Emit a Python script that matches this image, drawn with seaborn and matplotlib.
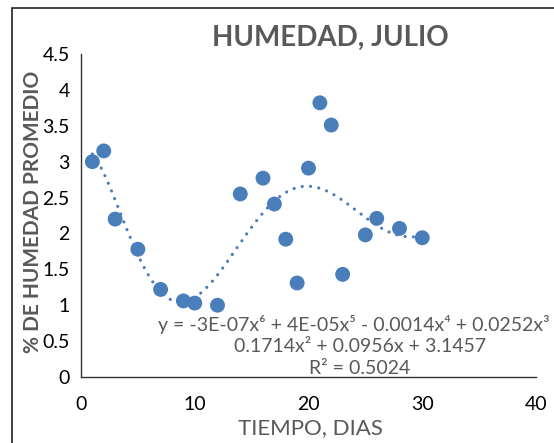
import numpy as np
import pandas as pd
import seaborn as sns
import matplotlib.pyplot as plt
from matplotlib.patches import Rectangle

# dias y humedad promedio (julio)
dias = [1, 2, 3, 5, 7, 9, 10, 12, 14, 16, 17, 18, 19, 20, 21, 22, 23, 25, 26, 28, 30]
humedad = [3.0, 3.15, 2.2, 1.78, 1.22, 1.06, 1.03, 1.0, 2.55, 2.77, 2.41, 1.92, 1.31,
           2.91, 3.82, 3.51, 1.43, 1.98, 2.21, 2.07, 1.94]
x_ticks = [0, 10, 20, 30, 40]
y_ticks = [0, 0.5, 1, 1.5, 2, 2.5, 3, 3.5, 4, 4.5]
eq_text = ("y = -3E-07x\u2076 + 4E-05x\u2075 - 0.0014x\u2074 + 0.0252x\u00b3 -\n"
           "0.1714x\u00b2 + 0.0956x + 3.1457\nR\u00b2 = 0.5024")

df = pd.DataFrame({"dias": dias, "humedad": humedad})

sns.set_style("white")
plt.rcParams["font.family"] = ["Lato", "DejaVu Sans"]

blue = "#4A7EBB"
gray = "#595959"

fig = plt.figure(figsize=(5.54, 4.43), dpi=100)
ax = fig.add_axes([81 / 554, 1 - 377 / 443, 455 / 554, 323 / 443])

# borde del area del grafico
fig.patches.append(Rectangle((12 / 554, -0.1), 1.2, 1 - 8 / 443 + 0.1,
                             transform=fig.transFigure, fill=False,
                             edgecolor="#222222", linewidth=1.2))

# linea de tendencia polinomica (orden 6)
coef = np.polyfit(df["dias"], df["humedad"], 6)
xs = np.linspace(min(dias), max(dias), 300)
trend = pd.DataFrame({"dias": xs, "humedad": np.polyval(coef, xs)})
sns.lineplot(data=trend, x="dias", y="humedad", ax=ax, color=blue, linewidth=2.3,
             linestyle=(0, (0.01, 2.6)), dash_capstyle="round", zorder=2)

sns.scatterplot(data=df, x="dias", y="humedad", ax=ax, color=blue, s=115,
                edgecolor="none", zorder=3)

ax.set_xlim(0, 40)
ax.set_ylim(0, 4.5)
ax.set_xticks(x_ticks)
ax.set_yticks(y_ticks)
ax.set_xticklabels([str(v) for v in x_ticks], fontsize=14, color="black")
ax.set_yticklabels(["0", "0.5", "1", "1.5", "2", "2.5", "3", "3.5", "4", "4.5"],
                   fontsize=14, color="black")
ax.tick_params(axis="both", length=0, pad=14)
ax.tick_params(axis="y", pad=8)
for s in ["top", "right"]:
    ax.spines[s].set_visible(False)
for s in ["left", "bottom"]:
    ax.spines[s].set_color("#333333")
    ax.spines[s].set_linewidth(1.0)

ax.set_xlabel("")
ax.set_ylabel("")
fig.text(310 / 554, 1 - 428 / 443, "TIEMPO, DIAS", ha="center", va="center",
         fontsize=16, color=gray)
fig.text(33 / 554, 1 - 212 / 443, "% DE HUMEDAD PROMEDIO", ha="center", va="center",
         rotation=90, fontsize=15, fontweight="bold", color=gray)
fig.text(330 / 554, 1 - 38 / 443, "HUMEDAD, JULIO", ha="center", va="center",
         fontsize=20, fontweight="bold", color=gray)
fig.text(360 / 554, 1 - 346 / 443, eq_text, ha="center", va="center",
         fontsize=14, color=gray, linespacing=1.3)

fig.savefig("out.png", dpi=100)
